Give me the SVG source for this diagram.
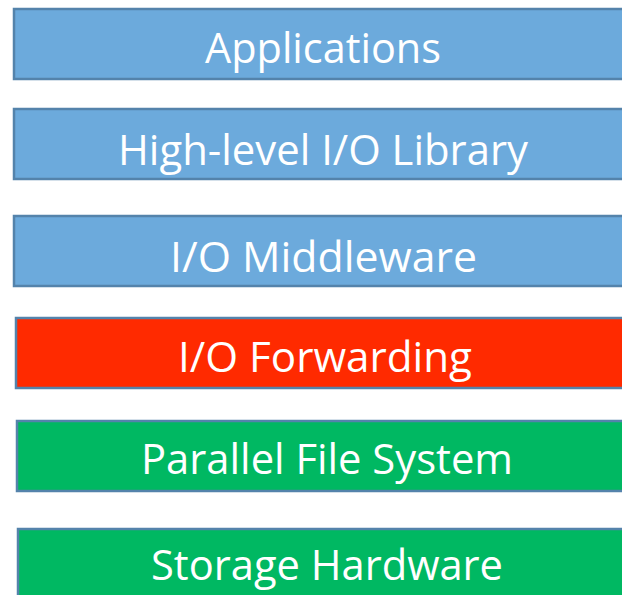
<svg xmlns="http://www.w3.org/2000/svg" width="622" height="595" viewBox="0 0 622 595">
  <style>
    .layer { stroke: #5483ab; stroke-width: 2.5; }
    .blue { fill: #6caadc; }
    .red { fill: #ff2a00; }
    .green { fill: #00b862; }
    .label { fill: #ffffff; font-family: "Open Sans", "Noto Sans", sans-serif; font-size: 42px; text-anchor: middle; }
  </style>
  <rect width="622" height="595" fill="#ffffff"/>
  <g id="applications">
    <rect class="layer blue" x="14" y="9" width="640" height="70"/>
    <text class="label" x="323" y="63" textLength="236" lengthAdjust="spacingAndGlyphs">Applications</text>
  </g>
  <g id="high-level-io-library">
    <rect class="layer blue" x="14" y="109" width="640" height="70"/>
    <text class="label" x="323" y="165" textLength="410" lengthAdjust="spacingAndGlyphs">High-level I/O Library</text>
  </g>
  <g id="io-middleware">
    <rect class="layer blue" x="14" y="216" width="640" height="70"/>
    <text class="label" x="323.5" y="272" textLength="307" lengthAdjust="spacingAndGlyphs">I/O Middleware</text>
  </g>
  <g id="io-forwarding">
    <rect class="layer red" x="16" y="318" width="640" height="70"/>
    <text class="label" x="325" y="372" textLength="294" lengthAdjust="spacingAndGlyphs">I/O Forwarding</text>
  </g>
  <g id="parallel-file-system">
    <rect class="layer green" x="17" y="421" width="640" height="70"/>
    <text class="label" x="327" y="474" textLength="372" lengthAdjust="spacingAndGlyphs">Parallel File System</text>
  </g>
  <g id="storage-hardware">
    <rect class="layer green" x="18" y="529" width="640" height="80"/>
    <text class="label" x="327" y="580" textLength="352" lengthAdjust="spacingAndGlyphs">Storage Hardware</text>
  </g>
</svg>
